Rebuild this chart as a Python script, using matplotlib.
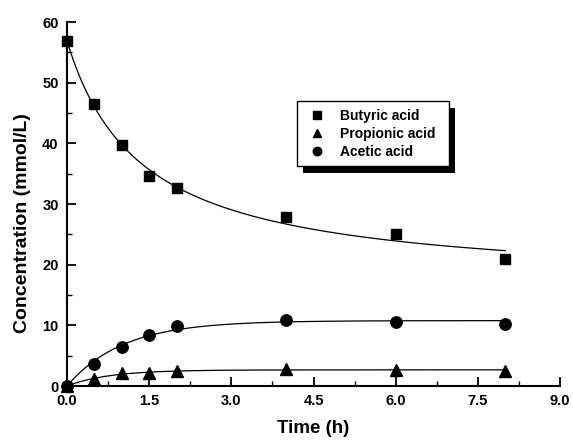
import numpy as np
import matplotlib
matplotlib.use("Agg")
import matplotlib.pyplot as plt
from matplotlib.patches import Rectangle
from matplotlib.ticker import MultipleLocator

plt.rcParams['font.family'] = ['Liberation Sans', 'DejaVu Sans']
plt.rcParams['font.weight'] = 'bold'

time_h = [0, 0.5, 1, 1.5, 2, 4, 6, 8]
butyric = [56.8, 46.5, 39.8, 34.6, 32.6, 27.8, 25.0, 20.9]
propionic = [0.0, 1.15, 2.1, 2.2, 2.5, 2.75, 2.7, 2.5]
acetic = [0.0, 3.7, 6.5, 8.4, 9.9, 10.9, 10.6, 10.3]
labels = ['Butyric acid', 'Propionic acid', 'Acetic acid']
xticks = [0.0, 1.5, 3.0, 4.5, 6.0, 7.5, 9.0]
yticks = [0, 10, 20, 30, 40, 50, 60]

t = np.array(time_h, dtype=float)


def fit_decay(y):
    y = np.asarray(y, float)
    best = None
    for k in np.linspace(0.01, 5, 2000):
        M = np.column_stack([np.ones_like(t), 1.0 / (1.0 + k * t)])
        c, *_ = np.linalg.lstsq(M, y, rcond=None)
        r = np.sum((M @ c - y) ** 2)
        if best is None or r < best[0]:
            best = (r, k, c)
    _, k, c = best
    return lambda x: c[0] + c[1] / (1.0 + k * x)


def fit_growth(y):
    y = np.asarray(y, float)
    best = None
    for k in np.linspace(0.01, 5, 2000):
        g = 1.0 - np.exp(-k * t)
        a = np.dot(g, y) / np.dot(g, g)
        r = np.sum((a * g - y) ** 2)
        if best is None or r < best[0]:
            best = (r, k, a)
    _, k, a = best
    return lambda x: a * (1.0 - np.exp(-k * x))


fig = plt.figure(figsize=(5.73, 4.41), dpi=100)
ax = fig.add_axes([67 / 573, 1 - 386 / 441, (560 - 67) / 573, (386 - 22) / 441])

tf = np.linspace(0, 8, 300)
for y, f in [(butyric, fit_decay), (propionic, fit_growth), (acetic, fit_growth)]:
    ax.plot(tf, f(y)(tf), color='black', lw=0.9, zorder=2)

ax.plot(t, butyric, ls='none', marker='s', ms=7.2, color='black', label=labels[0],
        zorder=3, clip_on=False)
ax.plot(t, propionic, ls='none', marker='^', ms=8, color='black', label=labels[1],
        zorder=3, clip_on=False)
ax.plot(t, acetic, ls='none', marker='o', ms=8.2, color='black', label=labels[2],
        zorder=3, clip_on=False)

ax.set_xlim(0, 9)
ax.set_ylim(0, 60)
ax.set_xticks(xticks)
ax.set_xticklabels([f'{v:.1f}' for v in xticks], fontweight='bold', fontsize=10.5)
ax.set_yticks(yticks)
ax.set_yticklabels([str(v) for v in yticks], fontweight='bold', fontsize=10.5)
ax.xaxis.set_minor_locator(MultipleLocator(0.75))
ax.yaxis.set_minor_locator(MultipleLocator(5))
ax.tick_params(which='major', direction='in', length=6.5, width=1.3, pad=6)
ax.tick_params(which='minor', direction='in', length=3.5, width=1.0)
for s in ['top', 'right']:
    ax.spines[s].set_visible(False)
for s in ['left', 'bottom']:
    ax.spines[s].set_linewidth(1.5)

ax.set_xlabel('Time (h)', fontsize=13.5, fontweight='bold', va='top')
ax.xaxis.set_label_coords(0.5, -0.094)
ax.set_ylabel('Concentration (mmol/L)', fontsize=14, fontweight='bold')
ax.yaxis.set_label_coords(-0.073, 0.448)

# legend box with drop shadow (axes-fraction placement)
box_x0, box_y0, box_w, box_h = 0.4665, 0.604, 0.308, 0.179
shadow_dx, shadow_dy = 0.0128, -0.0184
ax.add_patch(Rectangle((box_x0 + shadow_dx, box_y0 + shadow_dy), box_w, box_h,
                       transform=ax.transAxes, facecolor='black', edgecolor='black',
                       lw=0, zorder=4.8))
ax.add_patch(Rectangle((box_x0, box_y0), box_w, box_h, transform=ax.transAxes,
                       facecolor='white', edgecolor='black', lw=1.0, zorder=4.9))

leg = ax.legend(loc='upper left', bbox_to_anchor=(box_x0, box_y0 + box_h), borderaxespad=0,
                frameon=False, prop={'weight': 'bold', 'size': 10},
                markerscale=0.75, handlelength=1.68, handletextpad=0.86,
                borderpad=0.58, labelspacing=0.29)
leg.set_zorder(5)

fig.savefig('out.png', dpi=100)
